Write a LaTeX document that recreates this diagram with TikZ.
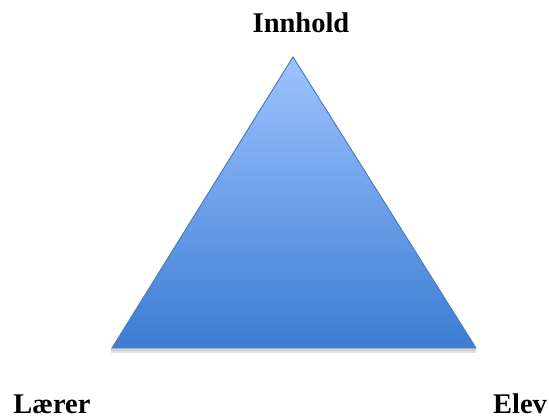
\documentclass[tikz,border=0pt]{standalone}
\usepackage{fontspec}
\setmainfont{Liberation Serif}
\definecolor{topblue}{RGB}{158,195,255}
\definecolor{botblue}{RGB}{60,124,210}
\definecolor{edgeblue}{RGB}{74,126,187}
\definecolor{shadowgray}{RGB}{208,208,208}
\tikzset{
  lbl/.style={font=\fontsize{28.5}{30}\selectfont\bfseries, inner sep=0pt, anchor=base, text depth=0pt},
  tri/.style={top color=topblue, bottom color=botblue, draw=edgeblue, line width=1pt, line join=miter}
}
\begin{document}
\begin{tikzpicture}[x=1pt,y=-1pt]
\useasboundingbox (0,0) rectangle (549,419);
\coordinate (apex) at (293,57);
\coordinate (bl) at (112,348);
\coordinate (br) at (476,348);
\fill[shadowgray] (111,348) rectangle (476,353);
\fill[gray!25] (111,351) rectangle (476,353);
\path[tri] (apex) -- (br) -- (bl) -- cycle;
\node[lbl] (innhold) at (301,33) {Innhold};
\node[lbl] (laerer) at (52,414) {Lærer};
\node[lbl] (elev) at (520,414) {Elev};
\end{tikzpicture}
\end{document}
